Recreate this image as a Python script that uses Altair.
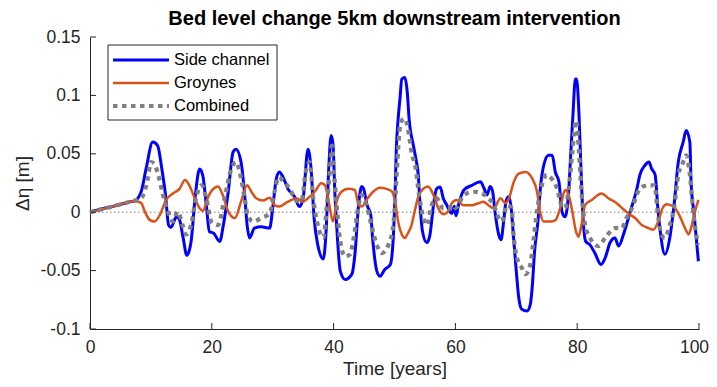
import altair as alt
import pandas as pd

# ---------------- data ----------------
side_t = [0, 2, 3.8, 6.6, 7.3, 8.4, 9.2, 10.3, 11.1, 11.8, 12.4, 12.9, 13.3, 14.2, 14.7, 15.3, 15.9, 16.6,
          17.3, 18.0, 18.5, 19.1, 19.6, 20.3, 21.3, 21.9, 22.7, 23.5, 24.0, 24.8, 25.4, 25.8, 26.2, 27.0,
          28.1, 29.5, 30.0, 30.6, 31.1, 31.7, 32.5, 33.6, 34.4, 35.0, 35.8, 36.3, 36.8, 37.4, 38.3, 38.8,
          39.2, 39.6, 39.9, 40.2, 40.5, 41.1, 41.9, 43.0, 43.5, 44.1, 44.6, 44.9, 45.5, 46.1, 46.4, 47.1,
          47.6, 48.4, 49.3, 49.8, 50.1, 50.3, 50.6, 50.9, 51.2, 51.7, 52.1, 52.4, 53.1, 53.5, 53.9, 54.2,
          54.6, 55.3, 55.8, 56.4, 56.9, 57.5, 58.0, 58.6, 59.4, 59.8, 60.1, 60.5, 61.4, 62.7, 64.1, 64.7,
          65.2, 65.7, 66.1, 66.5, 67.1, 67.5, 67.9, 68.3, 68.7, 69.1, 69.6, 70.0, 70.4, 70.9, 71.8, 72.3,
          72.6, 73.0, 73.6, 73.9, 74.5, 75.3, 75.9, 76.4, 77.0, 77.5, 78.0, 78.6, 78.9, 79.3, 79.7, 79.9,
          80.3, 80.6, 81.0, 81.4, 82.1, 82.9, 83.9, 84.6, 85.4, 86.2, 86.8, 87.6, 88.7, 89.8, 90.3, 91.1,
          91.8, 92.2, 92.8, 93.2, 93.7, 94.4, 95.2, 95.9, 96.6, 97.4, 97.9, 98.5, 98.7, 99.2, 99.9]
side_v = [0, 0.003, 0.005, 0.009, 0.0096, 0.0175, 0.037, 0.060, 0.057, 0.037, 0.0147, -0.011, -0.013, -0.004,
          -0.0065, -0.022, -0.037, -0.025, 0.0147, 0.037, 0.032, 0.006, -0.0165, -0.018, -0.025, -0.011,
          0.0175, 0.0515, 0.054, 0.043, 0.0147, -0.011, -0.022, -0.0136, -0.0125, -0.0136, 0.0034, 0.029,
          0.0345, 0.030, 0.020, 0.0133, 0.0048, 0.012, 0.054, 0.037, -0.005, -0.028, -0.040, -0.013, 0.037,
          0.0657, 0.058, 0.0175, -0.011, -0.0505, -0.0576, -0.053, -0.036, 0.006, 0.022, 0.0204, 0.006,
          -0.0023, -0.022, -0.0505, -0.0548, -0.049, -0.045, -0.022, 0.0175, 0.054, 0.080, 0.097, 0.114,
          0.1153, 0.1026, 0.080, 0.057, 0.046, 0.032, 0.006, -0.0165, -0.026, -0.020, 0.006, 0.020, 0.0215,
          0.012, 0.006, -0.001, 0.005, -0.003, 0.006, 0.019, 0.023, 0.026, 0.0205, 0.0147, 0.022, 0.018,
          0.0005, -0.019, -0.0236, -0.009, 0.009, 0.0133, 0.006, -0.025, -0.0505, -0.073, -0.083, -0.0845,
          -0.079, -0.065, -0.0335, -0.005, 0.0175, 0.040, 0.0487, 0.0487, 0.0345, 0.026, 0.0005, -0.004,
          0.0175, 0.046, 0.083, 0.114, 0.114, 0.083, 0.040, -0.008, -0.025, -0.028, -0.035, -0.0448, -0.039,
          -0.026, -0.022, -0.029, -0.019, 0.0005, 0.020, 0.032, 0.040, 0.043, 0.0375, 0.032, 0.006, -0.019,
          -0.036, -0.022, 0.006, 0.043, 0.060, 0.070, 0.060, 0.026, -0.0023, -0.042]

groyne_t = [0, 3.8, 6.6, 7.3, 8.4, 9.0, 9.8, 10.6, 11.5, 12.5, 13.6, 14.7, 15.6, 16.3, 17.2, 18.0, 18.5, 19.4,
            20.0, 21.0, 21.8, 22.7, 23.8, 24.8, 25.8, 26.5, 27.3, 28.4, 29.5, 30.3, 31.1, 32.5, 33.9, 35.0,
            35.8, 36.9, 38.0, 38.6, 39.3, 39.9, 40.5, 41.3, 42.4, 43.5, 44.1, 44.6, 45.4, 46.5, 47.6, 48.7,
            49.6, 50.1, 50.6, 51.2, 51.7, 52.2, 52.8, 53.3, 53.9, 54.7, 55.5, 56.4, 57.2, 58.0, 58.8, 59.4,
            60.2, 61.3, 62.7, 63.8, 64.6, 65.4, 66.3, 67.4, 68.2, 68.8, 69.6, 70.4, 71.5, 72.6, 73.4, 73.9,
            74.5, 75.6, 76.4, 77.2, 78.0, 78.6, 79.2, 79.8, 80.2, 80.7, 81.3, 82.4, 84.0, 85.1, 86.5, 87.4,
            88.4, 89.5, 90.6, 91.7, 92.5, 93.3, 94.0, 94.7, 95.8, 96.9, 97.7, 98.3, 98.7, 99.2, 99.9]
groyne_v = [0, 0.005, 0.009, 0.0096, 0.008, 0.0006, -0.0066, -0.008, -0.002, 0.0105, 0.016, 0.020, 0.0275,
            0.023, 0.012, 0.0034, 0.001, 0.013, 0.0185, 0.022, 0.0147, 0.0005, -0.005, 0.009, 0.023, 0.0175,
            0.012, 0.010, 0.0124, 0.006, 0.0048, 0.009, 0.012, 0.009, 0.012, 0.0175, 0.0247, 0.023, 0.006,
            -0.008, 0.009, 0.0175, 0.020, 0.019, 0.006, 0.0048, 0.0105, 0.0175, 0.021, 0.020, 0.0175, 0.009,
            -0.008, -0.019, -0.022, -0.018, -0.011, 0.0005, 0.013, 0.020, 0.022, 0.0147, 0.0034, -0.0017,
            0.0005, 0.0077, 0.0105, 0.006, 0.006, 0.0077, 0.009, 0.006, 0.0034, 0.012, 0.0077, 0.012, 0.026,
            0.033, 0.0345, 0.029, 0.0175, 0.0005, -0.008, -0.008, -0.007, 0.0034, 0.019, 0.0147, 0.0005,
            -0.0165, -0.021, -0.011, 0.006, 0.0105, 0.016, 0.012, 0.0077, 0.0034, -0.001, -0.005, -0.011,
            -0.0136, -0.015, -0.008, 0.0034, 0.0068, 0.0048, -0.004, -0.0136, -0.019, -0.0136, -0.0023, 0.0105]

comb_t = [0, 3.8, 6.6, 8.4, 9.5, 10.0, 10.6, 11.2, 12.0, 12.8, 13.6, 14.4, 15.2, 15.8, 16.6, 17.4, 18.3, 19.1,
          19.9, 21.0, 22.1, 23.2, 24.0, 24.6, 25.4, 25.9, 26.8, 28.1, 29.5, 30.3, 31.0, 31.7, 32.8, 33.9,
          34.7, 35.5, 36.1, 36.6, 37.4, 38.3, 38.9, 39.5, 39.7, 40.1, 40.5, 41.1, 41.9, 42.7, 43.3, 44.1,
          44.6, 45.4, 46.2, 47.1, 47.9, 49.0, 49.8, 50.2, 50.6, 51.0, 51.7, 52.3, 52.8, 53.5, 53.9, 54.5,
          55.3, 56.1, 56.9, 58.0, 58.8, 59.7, 60.0, 61.4, 63.0, 64.4, 65.4, 66.3, 67.1, 67.6, 68.5, 69.2,
          69.6, 70.1, 70.9, 71.5, 72.3, 72.8, 73.4, 74.2, 75.0, 75.9, 76.7, 77.4, 78.0, 78.6, 79.2, 79.8,
          79.9, 80.3, 80.7, 81.3, 82.1, 83.5, 84.6, 86.2, 87.3, 88.1, 89.0, 90.0, 90.8, 92.0, 92.7, 93.2,
          93.8, 94.4, 95.2, 95.9, 96.6, 97.4, 97.9, 98.5, 99.0, 99.8]
comb_v = [0, 0.005, 0.009, 0.012, 0.029, 0.043, 0.041, 0.032, 0.0147, 0.0005, -0.008, 0.0005, -0.011, -0.019,
          -0.011, 0.012, 0.023, 0.012, -0.008, -0.011, 0.012, 0.037, 0.043, 0.034, 0.012, -0.0023, -0.008,
          -0.005, -0.001, 0.0175, 0.030, 0.027, 0.020, 0.010, 0.009, 0.037, 0.043, 0.0147, -0.011, -0.022,
          0.006, 0.043, 0.057, 0.032, 0.006, -0.025, -0.038, -0.036, -0.022, 0.006, 0.0147, 0.006, -0.011,
          -0.028, -0.035, -0.028, -0.011, 0.0175, 0.054, 0.077, 0.080, 0.0685, 0.0515, 0.037, 0.020, 0.0005,
          -0.011, 0.006, 0.012, 0.0034, 0.0034, 0.006, 0.0034, 0.0147, 0.0175, 0.016, 0.012, 0.006, -0.005,
          -0.008, 0.006, 0.0034, -0.022, -0.039, -0.0476, -0.053, -0.0448, -0.025, 0.001, 0.023, 0.032,
          0.028, 0.020, 0.006, 0.0034, 0.020, 0.0515, 0.0785, 0.077, 0.0515, 0.0175, -0.011, -0.022, -0.029,
          -0.022, -0.0136, -0.0136, -0.005, 0.0034, 0.0175, 0.022, 0.023, 0.023, 0.0005, -0.019, -0.022,
          -0.011, 0.0034, 0.032, 0.043, 0.0487, 0.032, 0.0034, -0.028]

series_names = ["Side channel", "Groynes", "Combined"]
series_colors = ["#0000ff", "#d95319", "#808080"]
x_ticks = [0, 20, 40, 60, 80, 100]
y_ticks = [-0.1, -0.05, 0, 0.05, 0.1, 0.15]

title_text = "Bed level change 5km downstream intervention"
x_title = "Time [years]"
y_title = "\u0394\u03b7 [m]"

# ---------------- chart ----------------
W, H = 609, 292
FONT = "Liberation Sans"
AX = "#262626"

xs = alt.Scale(domain=[0, 100], nice=False, zero=False)
ys = alt.Scale(domain=[-0.1, 0.15], nice=False, zero=False)

x_axis = alt.Axis(values=x_ticks, title=x_title, tickSize=0, labelPadding=9,
                  labelFontSize=17.5, titleFontSize=19, titlePadding=4, grid=False,
                  labelFlush=False,
                  labelOffset=alt.ConditionalAxisNumber(condition={"test": "datum.value == 100", "value": -5},
                                                        value=0))
y_axis = alt.Axis(values=y_ticks, title=y_title, tickSize=0, labelPadding=10,
                  labelFontSize=17.5, titleFontSize=19, grid=False,
                  labelExpr="replace(datum.label, '\u2212', '-')", format="~g",
                  titleX=-68, titleY=H / 2, titleAlign="center", titleBaseline="middle",
                  titleAngle=270, labelFlush=False)


def series_df(t, v):
    return pd.DataFrame({"t": t, "v": v})


base_axes = alt.Chart(series_df([0], [0])).mark_point(opacity=0).encode(
    x=alt.X("t:Q", scale=xs, axis=x_axis),
    y=alt.Y("v:Q", scale=ys, axis=y_axis),
)

zero_line = alt.Chart(series_df([0], [0])).mark_rule(
    color="#7f7f7f", strokeWidth=1, strokeDash=[1.5, 2.5]
).encode(y=alt.Y("v:Q", scale=ys), x=alt.value(0), x2=alt.value(W))

styles = [
    dict(strokeWidth=3.0),
    dict(strokeWidth=2.5),
    dict(strokeWidth=4.2, strokeDash=[4.5, 4.5]),
]
data_pairs = [(side_t, side_v), (groyne_t, groyne_v), (comb_t, comb_v)]
lines = []
for (t, v), col, st in zip(data_pairs, series_colors, styles):
    lines.append(
        alt.Chart(series_df(t, v)).mark_line(color=col, interpolate="monotone", **st).encode(
            x=alt.X("t:Q", scale=xs), y=alt.Y("v:Q", scale=ys), order="t:Q"
        )
    )

xt = alt.Chart(pd.DataFrame({"t": x_ticks})).mark_rule(color=AX, strokeWidth=1).encode(
    x=alt.X("t:Q", scale=xs), y=alt.value(H), y2=alt.value(H - 6))
yt = alt.Chart(pd.DataFrame({"v": y_ticks})).mark_rule(color=AX, strokeWidth=1).encode(
    y=alt.Y("v:Q", scale=ys), x=alt.value(0), x2=alt.value(6))

# legend (manual, MATLAB style)
leg_df = pd.DataFrame({"label": ["legend"]})
leg_box = alt.Chart(leg_df).mark_rect(fill="white", stroke=AX, strokeWidth=1).encode(
    x=alt.value(18), x2=alt.value(187), y=alt.value(8), y2=alt.value(83))
leg_layers = [leg_box]
row_y = [23, 46, 69]
for name, col, st, yy in zip(series_names, series_colors, styles, row_y):
    d = pd.DataFrame({"label": [name]})
    leg_layers.append(alt.Chart(d).mark_rule(color=col, **st).encode(
        x=alt.value(23), x2=alt.value(79), y=alt.value(yy)))
    leg_layers.append(alt.Chart(d).mark_text(align="left", baseline="middle", fontSize=16.5,
                                             font=FONT, color="black").encode(
        x=alt.value(84), y=alt.value(yy), text="label:N"))

chart = alt.layer(base_axes, zero_line, *lines, xt, yt, *leg_layers).properties(
    width=W, height=H,
    title=alt.TitleParams(title_text, fontSize=20, fontWeight="bold", font=FONT,
                          color="black", anchor="middle", offset=-1),
    autosize=alt.AutoSizeParams(type="none"),
    padding={"left": 82, "top": 29, "right": 10, "bottom": 50},
).configure_view(stroke=None).configure_axis(
    labelFont=FONT, titleFont=FONT, labelColor=AX, titleColor=AX,
    domainColor=AX, domainWidth=1, titleFontWeight="normal"
)

chart.save("out.html", embed_options={"renderer": "svg", "actions": False})
